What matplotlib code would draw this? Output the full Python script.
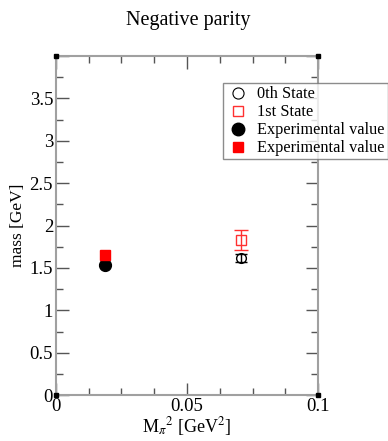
import matplotlib
matplotlib.use('Agg')
import matplotlib.pyplot as plt
from matplotlib.lines import Line2D
from matplotlib.ticker import MultipleLocator, FixedFormatter, FixedLocator

plt.rcParams['font.family'] = ['Liberation Serif', 'DejaVu Serif']
plt.rcParams['mathtext.fontset'] = 'stix'

# Lattice results
mpi2_lat = [0.0707]
mass_0th = [1.62]
err_0th = [0.05]
mass_1st = [1.83]
err_1st = [0.12]

# Experimental values
mpi2_exp = [0.0188]
mass_exp_0 = [1.535]
mass_exp_1 = [1.655]

fig = plt.figure(figsize=(3.88, 4.41), dpi=100)
ax = fig.add_axes([0.144, 0.104, 0.676, 0.769])

ax.errorbar(mpi2_lat, mass_0th, yerr=err_0th, fmt='o', mfc='none', mec='black',
            ecolor='black', ms=7, mew=1, elinewidth=1, capsize=4, capthick=1)
ax.errorbar(mpi2_lat, mass_1st, yerr=err_1st, fmt='s', mfc='none', mec='#ff3030',
            ecolor='#ff3030', ms=7, mew=1, elinewidth=1, capsize=5, capthick=1)
ax.plot(mpi2_exp, mass_exp_0, 'o', color='black', ms=8.5)
ax.plot(mpi2_exp, mass_exp_1, 's', color='red', ms=7)

ax.set_xlim(0, 0.1)
ax.set_ylim(0, 4)
ax.xaxis.set_major_locator(FixedLocator([0, 0.05, 0.1]))
ax.xaxis.set_major_formatter(FixedFormatter(['0', '0.05', '0.1']))
ax.xaxis.set_minor_locator(MultipleLocator(0.0125))
ax.yaxis.set_major_locator(FixedLocator([0, 0.5, 1, 1.5, 2, 2.5, 3, 3.5, 4]))
ax.yaxis.set_major_formatter(FixedFormatter(['0', '0.5', '1', '1.5', '2', '2.5', '3', '3.5', '']))
ax.yaxis.set_minor_locator(MultipleLocator(0.25))
ax.tick_params(which='both', direction='in', top=True, right=True, color='#555555',
               labelsize=13.5, width=1)
ax.tick_params(which='major', length=9, pad=2)
ax.tick_params(which='minor', length=5)
for s in ax.spines.values():
    s.set_color('#a0a0a0')
    s.set_linewidth(1.5)

# corner markers
ax.plot([0, 1, 0, 1], [0, 0, 1, 1], 's', color='black', ms=3.5,
        transform=ax.transAxes, clip_on=False, zorder=5)

ax.set_xlabel(r'M$_\pi$$^2$ [GeV$^2$]', fontsize=13, labelpad=0)
ax.set_ylabel('mass [GeV]', fontsize=12.5)
ax.yaxis.set_label_coords(-0.115, 0.5)
fig.suptitle('Negative parity', fontsize=14.5, x=0.485, y=0.975)

handles = [
    Line2D([], [], ls='none', marker='o', mfc='none', mec='black', ms=8, mew=0.8),
    Line2D([], [], ls='none', marker='s', mfc='none', mec='#ff3030', ms=7, mew=1),
    Line2D([], [], ls='none', marker='o', color='black', ms=9),
    Line2D([], [], ls='none', marker='s', color='red', ms=7),
]
labels = ['0th State', '1st State', 'Experimental value', 'Experimental value']
leg = ax.legend(handles, labels, loc='upper left', bbox_to_anchor=(0.637, 0.92),
                fontsize=11.7, frameon=True, fancybox=False, borderpad=0.2,
                labelspacing=0.12, handletextpad=0.5, handlelength=1.4,
                borderaxespad=0)
leg.get_frame().set_edgecolor('#707070')
leg.get_frame().set_linewidth(1)

fig.savefig('out.png', dpi=100, facecolor='white')
